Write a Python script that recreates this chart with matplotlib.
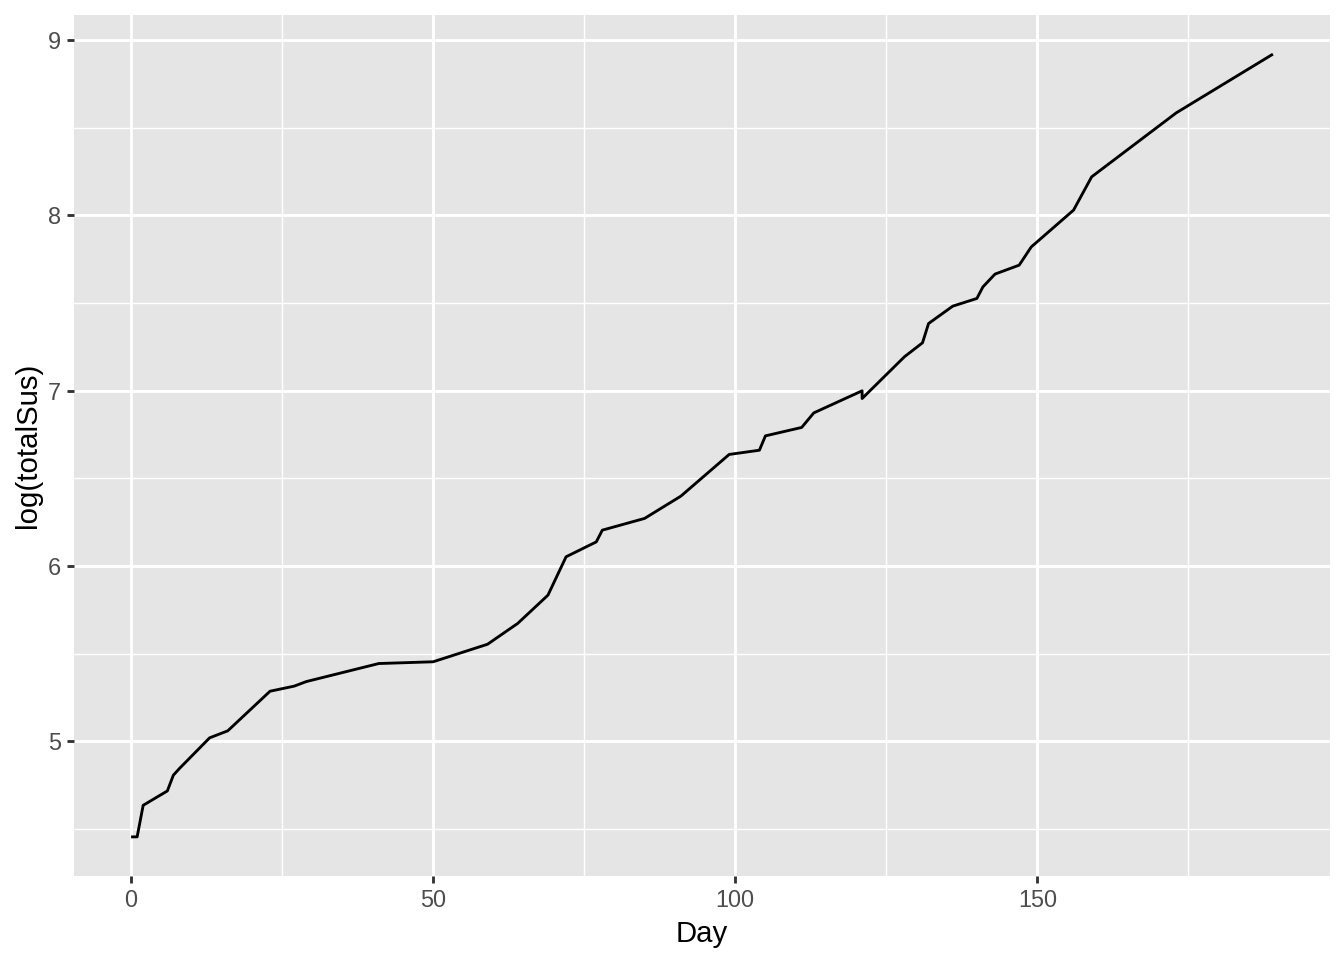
import matplotlib
matplotlib.use("Agg")
import matplotlib.pyplot as plt
import numpy as np

day = [0, 1, 2, 6, 7, 8, 13, 16, 23, 27, 29, 41, 50, 59, 64, 69, 72, 77, 78, 85,
       91, 99, 104, 105, 111, 113, 121, 121, 128, 131, 132, 136, 140, 141, 143,
       147, 149, 156, 159, 173, 189]
log_total_sus = [4.454, 4.454, 4.634, 4.716, 4.806, 4.844, 5.019, 5.059, 5.285,
                 5.314, 5.340, 5.443, 5.453, 5.553, 5.672, 5.833, 6.052, 6.137,
                 6.204, 6.271, 6.398, 6.636, 6.660, 6.742, 6.790, 6.873, 6.999,
                 6.955, 7.193, 7.273, 7.383, 7.482, 7.526, 7.592, 7.665, 7.716,
                 7.820, 8.030, 8.220, 8.585, 8.920]
x_major = [0, 50, 100, 150]
x_minor = [25, 75, 125, 175]
y_major = [5, 6, 7, 8, 9]
y_minor = [4.5, 5.5, 6.5, 7.5, 8.5]

plt.rcParams['font.family'] = ['Liberation Sans', 'DejaVu Sans']

fig = plt.figure(figsize=(7, 5), dpi=192)
ax = fig.add_axes([74 / 1344, 1 - 876 / 960, (1330 - 74) / 1344, (876 - 15) / 960])
ax.set_facecolor('#E5E5E5')

x = np.array(day, dtype=float)
y = np.array(log_total_sus)
xr = x.max() - x.min()
yr = y.max() - y.min()
ax.set_xlim(x.min() - 0.05 * xr, x.max() + 0.05 * xr)
ax.set_ylim(y.min() - 0.05 * yr, y.max() + 0.05 * yr)

for v in x_minor:
    ax.axvline(v, color='white', lw=0.53, zorder=1)
for v in y_minor:
    ax.axhline(v, color='white', lw=0.53, zorder=1)
for v in x_major:
    ax.axvline(v, color='white', lw=1.07, zorder=1)
for v in y_major:
    ax.axhline(v, color='white', lw=1.07, zorder=1)

ax.plot(x, y, color='black', lw=1.07, zorder=3, solid_capstyle='butt', solid_joinstyle='round')

ax.set_xticks(x_major)
ax.set_yticks(y_major)
ax.set_xticklabels([str(v) for v in x_major])
ax.set_yticklabels([str(v) for v in y_major])
ax.tick_params(axis='both', length=2.75, width=1.07, color='#333333',
               labelcolor='#4D4D4D', labelsize=8.8, pad=2.2)
for s in ax.spines.values():
    s.set_visible(False)

ax.set_xlabel('Day', fontsize=11, color='black', labelpad=3)
ax.set_ylabel('log(totalSus)', fontsize=11, color='black', labelpad=2)

fig.savefig('out.png', dpi=192)
